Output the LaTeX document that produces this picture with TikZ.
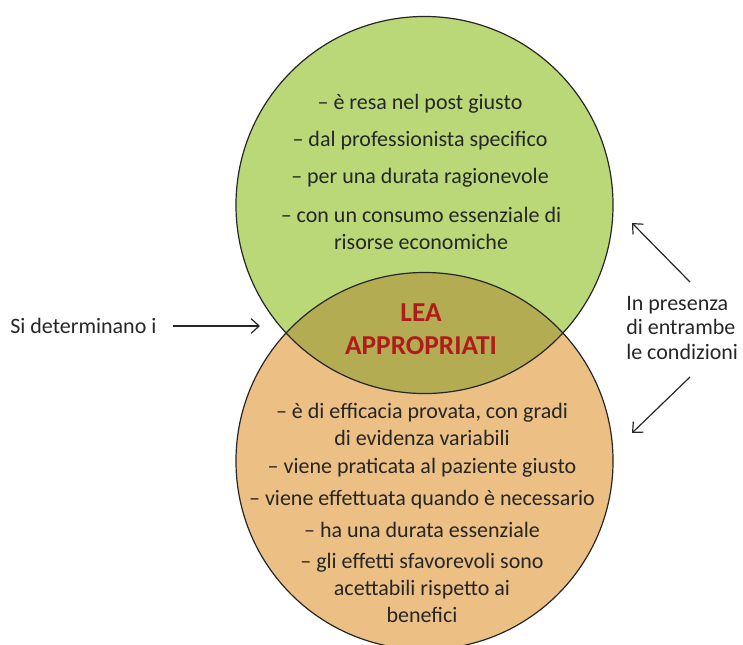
\documentclass[tikz,border=0pt]{standalone}
\usepackage{fontspec}
\setmainfont{Carlito}
\usetikzlibrary{positioning}
\usetikzlibrary{arrows.meta}

\definecolor{verde}{HTML}{BBD878}
\definecolor{arancio}{HTML}{ECC084}
\definecolor{oliva}{HTML}{B3AC52}
\definecolor{rosso}{HTML}{B01B1B}
\definecolor{testo}{HTML}{262626}

\begin{document}
\begin{tikzpicture}[x=0.75pt, y=-0.75pt,
    every node/.style={text=testo, font=\fontsize{16.5}{20.3}\selectfont, align=center, inner sep=0pt},
    titolo/.style={text=rosso, font=\fontsize{20.5}{25}\selectfont\bfseries},
    freccia/.style={-{Straight Barb[length=6pt,width=11pt]}, line width=0.9pt, draw=testo}]
            \useasboundingbox (0,0) rectangle (743,644);

            % Cerchi
            \coordinate (cv) at (424.5,205);
            \coordinate (ca) at (424.5,461);
            \fill[verde] (cv) circle (141.4pt);
            \fill[arancio] (ca) circle (141.4pt);
            \begin{scope}
                \clip (cv) circle (141.4pt);
                \fill[oliva] (ca) circle (141.4pt);
            \end{scope}
            \draw[line width=0.9pt, black!85] (cv) circle (141.4pt);
            \draw[line width=0.9pt, black!85] (ca) circle (141.4pt);

            % Testi cerchio verde
            \node (g1) at (420,104) {– è resa nel post giusto};
            \node (g2) at (420,141) {– dal professionista specifico};
            \node (g3) at (420,178) {– per una durata ragionevole};
            \node (g4) at (421,228) {– con un consumo essenziale di\\risorse economiche};

            % Intersezione
            \node[titolo] (lea) at (421,329) {LEA\\APPROPRIATI};

            % Testi cerchio arancio
            \node (o1) at (422,424) {– è di efficacia provata, con gradi\\di evidenza variabili};
            \node (o2) at (422,468) {– viene praticata al paziente giusto};
            \node (o3) at (422,500) {– viene effettuata quando è necessario};
            \node (o4) at (422,530) {– ha una durata essenziale};
            \node (o5) at (422,588) {– gli effetti sfavorevoli sono\\acettabili rispetto ai\\benefici};

            % Etichette laterali
            \node[anchor=west] (sidet) at (10,326) {Si determinano i};
            \node[align=left, anchor=west, font=\fontsize{16.5}{18.5}\selectfont] (cond) at (626,328) {In presenza\\di entrambe\\le condizioni};

            % Frecce
            \coordinate (p1) at (260,326);
            \coordinate (a1) at (690,282);
            \coordinate (q1) at (632,223);
            \coordinate (a2) at (690,377);
            \coordinate (q2) at (632,433);
            \draw[freccia, shorten <=12pt] (sidet.east) -- (p1);
            \draw[freccia] (a1) -- (q1);
            \draw[freccia] (a2) -- (q2);
\end{tikzpicture}
\end{document}
